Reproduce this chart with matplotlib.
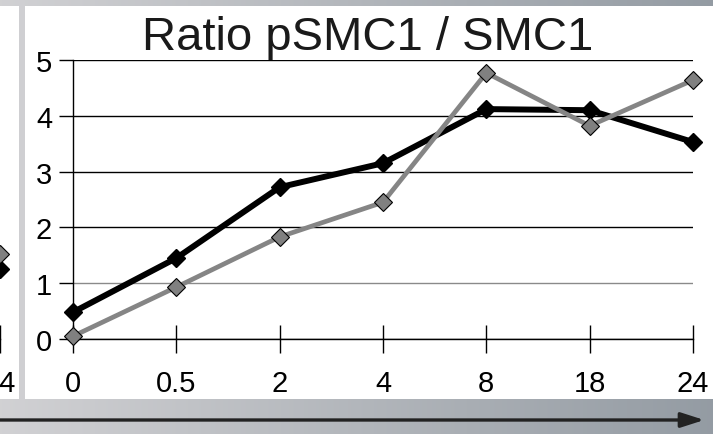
import matplotlib.pyplot as plt
import numpy as np
from matplotlib.patches import Rectangle

# Chart data
time_labels = ["0", "0.5", "2", "4", "8", "18", "24"]
ratio_black = [0.48, 1.45, 2.72, 3.15, 4.12, 4.10, 3.53]
ratio_gray = [0.05, 0.93, 1.83, 2.45, 4.77, 3.82, 4.64]
y_ticks = [0, 1, 2, 3, 4, 5]

# right end of the neighbouring chart that is cut off on the left
prev_labels = ["", "", "", "", "", "", "24"]
prev_black_last = [1.25]
prev_gray_last = [1.52]

W, H = 713, 435
plt.rcParams["font.family"] = ["Liberation Sans", "DejaVu Sans"]

fig = plt.figure(figsize=(W / 100, H / 100), dpi=100)

# --- slide background: grey gradient, white panels, arrow ---
bg = fig.add_axes([0, 0, 1, 1], zorder=0)
bg.set_xlim(0, W)
bg.set_ylim(H, 0)
bg.axis("off")
t = np.linspace(0, 1, W)
left_c = np.array([0.82, 0.82, 0.83])
right_c = np.array([0.58, 0.61, 0.64])
row = left_c[None, :] * (1 - t[:, None]) + right_c[None, :] * t[:, None]
grad = np.repeat(row[None, :, :], H, axis=0)
bg.imshow(grad, extent=(0, W, H, 0), aspect="auto", zorder=0)
bg.add_patch(Rectangle((0, 7), 19, 393, facecolor="white", edgecolor="none", zorder=1))
bg.add_patch(Rectangle((25, 7), W - 25, 393, facecolor="white", edgecolor="none", zorder=1))
bg.annotate("", xy=(707, 421), xytext=(-5, 421),
            arrowprops=dict(arrowstyle="-|>,head_length=1.4,head_width=0.45",
                            color="#222222", lw=2.4), zorder=2)


def style_axes(ax, labels, show_ylabels=True):
    ax.patch.set_visible(False)
    ax.set_xlim(0, len(labels) - 1)
    ax.set_ylim(0, 5)
    ax.set_xticks(np.arange(len(labels)))
    ax.set_xticklabels(labels)
    ax.set_yticks(y_ticks)
    if not show_ylabels:
        ax.set_yticklabels([])
    ax.yaxis.grid(True, color="black", lw=1)
    ax.set_axisbelow(True)
    for s in ["top", "right"]:
        ax.spines[s].set_visible(False)
    ax.spines["left"].set_linewidth(1)
    ax.spines["bottom"].set_linewidth(1)
    ax.tick_params(axis="x", direction="inout", length=19.5, width=1,
                   labelsize=21, pad=12, color="black")
    ax.tick_params(axis="y", direction="out", length=10, width=1,
                   labelsize=21, pad=5, color="black")


ax_rect = [73 / W, 95 / H, 620 / W, 279 / H]

# neighbouring chart, mostly off the left edge
ax_prev = fig.add_axes([ax_rect[0] - 693 / W, ax_rect[1], ax_rect[2], ax_rect[3]], zorder=2)
style_axes(ax_prev, prev_labels, show_ylabels=False)
last = len(prev_labels) - 1
ax_prev.plot([last], prev_black_last, color="black", marker="D", markersize=9,
             linestyle="none", clip_on=False)
ax_prev.plot([last], prev_gray_last, color="#808080", marker="D", markersize=9,
             markeredgecolor="black", markeredgewidth=0.8, linestyle="none", clip_on=False)

# main chart
ax = fig.add_axes(ax_rect, zorder=3)
style_axes(ax, time_labels)
x = np.arange(len(time_labels))
ax.plot(x, ratio_black, color="black", lw=4.3, marker="D", markersize=9,
        clip_on=False, zorder=3)
ax.plot(x, ratio_gray, color="#858585", lw=3.4, marker="D", markersize=9.5,
        markerfacecolor="#808080", markeredgecolor="black", markeredgewidth=0.8,
        clip_on=False, zorder=4)
ax.get_ygridlines()[1].set_color("#8a8a8a")

fig.text(368 / W, (H - 50) / H, "Ratio pSMC1 / SMC1", fontsize=34,
         ha="center", va="baseline", color="#1a1a1a")

fig.savefig("out.png", dpi=100)
